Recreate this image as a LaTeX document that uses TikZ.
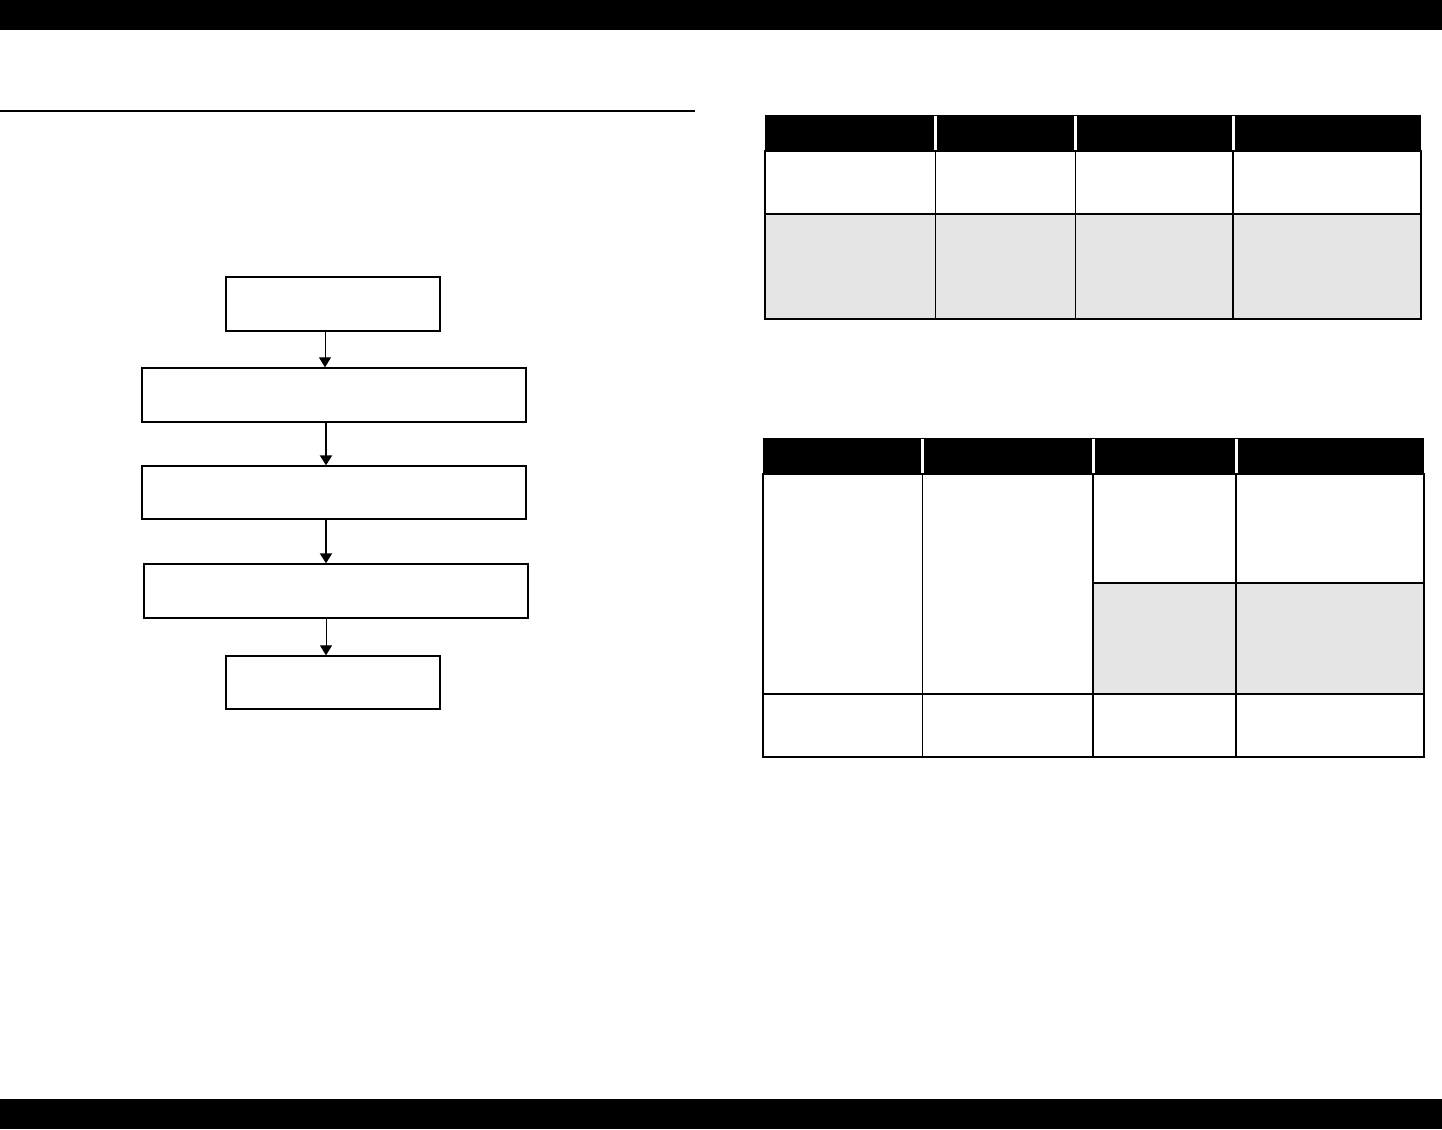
\documentclass[tikz,border=0pt]{standalone}
\usetikzlibrary{arrows.meta}
\definecolor{cellgray}{HTML}{E5E5E5}
\begin{document}
\begin{tikzpicture}[x=1pt,y=-1pt,
  flowbox/.style={draw,line width=1.3pt,inner sep=0pt},
  thinarr/.style={line width=1pt,-{Triangle[length=10pt,width=12pt]}},
  thickarr/.style={line width=2pt,-{Triangle[length=10pt,width=12pt]}},
  grid/.style={line width=1.6pt},
  hdrsep/.style={white,line width=3pt}]
\useasboundingbox (0,0) rectangle (1442,1129);
% page bars and rule
\fill (0,0) rectangle (1442,30);
\fill (0,1099) rectangle (1442,1129);
\draw[line width=1.2pt] (0,111) -- (695,111);
% flowchart
\node[flowbox,minimum width=214pt,minimum height=54pt] (b1) at (333,304) {};
\node[flowbox,minimum width=384pt,minimum height=54pt] (b2) at (334,395) {};
\node[flowbox,minimum width=384pt,minimum height=53pt] (b3) at (334,492.5) {};
\node[flowbox,minimum width=384pt,minimum height=54pt] (b4) at (336,591) {};
\node[flowbox,minimum width=214pt,minimum height=53pt] (b5) at (333,682.5) {};
\draw[thinarr] ([xshift=-8pt]b1.south) -- ([xshift=-9pt]b2.north);
\draw[thickarr] ([xshift=-8pt]b2.south) -- ([xshift=-8pt]b3.north);
\draw[thickarr] ([xshift=-8pt]b3.south) -- ([xshift=-10pt]b4.north);
\draw[thinarr] ([xshift=-10pt]b4.south) -- ([xshift=-7pt]b5.north);
% table 1
\fill[cellgray] (765,214) rectangle (1421,319);
\fill (765,115) rectangle (1421,151);
\draw[grid] (765,151) rectangle (1421,319);
\draw[grid] (765,214) -- (1421,214);
\foreach \cx in {935.5,1075.5,1233} {
  \draw[grid] (\cx,151) -- (\cx,319);
  \draw[hdrsep] (\cx,116) -- (\cx,150);
}
% table 2
\fill[cellgray] (1093,583) rectangle (1424,694);
\fill (763,438) rectangle (1424,474);
\draw[grid] (763,474) rectangle (1424,757);
\draw[grid] (1093,583) -- (1424,583);
\draw[grid] (763,694) -- (1424,694);
\foreach \cx in {922.5,1093,1236} {
  \draw[grid] (\cx,474) -- (\cx,757);
  \draw[hdrsep] (\cx,439) -- (\cx,473);
}
\end{tikzpicture}
\end{document}
